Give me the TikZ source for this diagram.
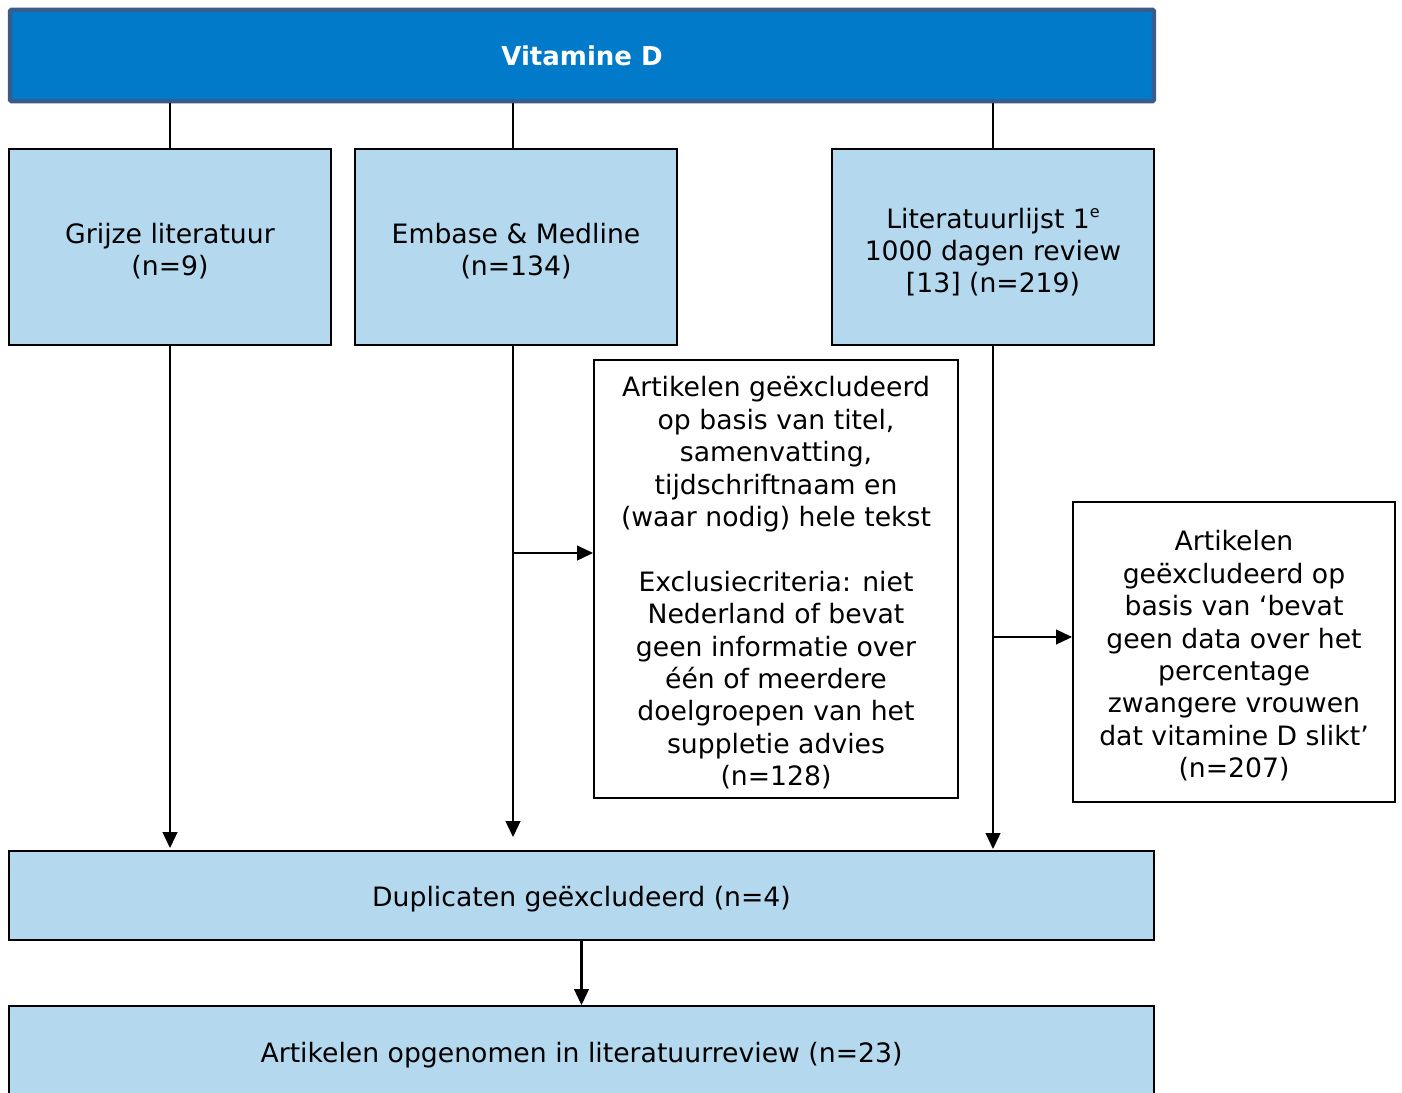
\documentclass[tikz,border=0pt]{standalone}
\usepackage{fontspec}
\setmainfont{DejaVu Sans}
\usetikzlibrary{arrows.meta,calc}
\definecolor{hdrfill}{RGB}{0,122,201}
\definecolor{hdrline}{RGB}{58,92,140}
\definecolor{boxfill}{RGB}{180,216,238}
% a tall first-line strut lowers box text slightly below the box centre
\newcommand{\toplift}{\rule{0pt}{21pt}}
\begin{document}
\begin{tikzpicture}[x=0.75pt,y=-0.75pt,
  every node/.style={font=\fontsize{20}{24.3}\selectfont, inner sep=0pt, align=center},
  header/.style={rectangle, rounded corners=1pt, fill=hdrfill, draw=hdrline, line width=3.2pt,
    text=white, font=\fontsize{19.5}{24.3}\selectfont\bfseries},
  srcbox/.style={rectangle, fill=boxfill, draw=black, line width=1.4pt,
    minimum width=241.5pt, minimum height=147pt},
  exbox/.style={rectangle, fill=white, draw=black, line width=1.4pt},
  widebox/.style={rectangle, fill=boxfill, draw=black, line width=1.4pt,
    minimum width=858.75pt},
  link/.style={line width=1.6pt},
  flow/.style={line width=1.6pt, -{Triangle[length=12pt,width=11pt]}}
]
\useasboundingbox (0,0) rectangle (1402,1092);

% heading
\node[header, minimum width=858pt, minimum height=68.5pt] (hdr) at (582,55.5) {Vitamine D};

% sources
\node[srcbox] (grey) at (170,247) {\toplift Grijze literatuur\\(n=9)};
\node[srcbox] (emb) at (516,247) {\toplift Embase \& Medline\\(n=134)};
\node[srcbox] (lit) at (993,247) {\rule{0pt}{23pt}Literatuurlijst 1\raisebox{8pt}{\fontsize{12}{12}\selectfont e}\\1000 dagen review\\{[13]} (n=219)};

% exclusions
\node[exbox, minimum width=273pt, minimum height=328.5pt] (ex1) at (776,579)
  {\toplift Artikelen geëxcludeerd\\op basis van titel,\\samenvatting,\\tijdschriftnaam en\\(waar nodig) hele tekst\\\mbox{}\\Exclusiecriteria: niet\\Nederland of bevat\\geen informatie over\\één of meerdere\\doelgroepen van het\\suppletie advies\\(n=128)};
\node[exbox, minimum width=241.5pt, minimum height=225pt] (ex2) at (1234,652)
  {\toplift Artikelen\\geëxcludeerd op\\basis van ‘bevat\\geen data over het\\percentage\\zwangere vrouwen\\dat vitamine D slikt’\\(n=207)};

% merged results
\node[widebox, minimum height=66.75pt] (dup) at (581.5,895.5) {\toplift Duplicaten geëxcludeerd (n=4)};
\node[widebox, minimum height=67.5pt] (fin) at (581.5,1051) {\toplift Artikelen opgenomen in literatuurreview (n=23)};

% heading to sources
\coordinate (embtop) at (513,149);
\coordinate (embbot) at (513,345);
\draw[link] (hdr.south -| grey.north) -- (grey.north);
\draw[link] (hdr.south -| embtop) -- (embtop);
\draw[link] (hdr.south -| lit.north) -- (lit.north);

% sources down to duplicates
\draw[flow] (grey.south) -- ($(grey.south |- dup.north)+(0,-2)$);
\draw[flow] (embbot) -- ($(embbot |- dup.north)+(0,-13)$);
\draw[flow] (lit.south) -- ($(lit.south |- dup.north)+(0,-1)$);

% side branches to exclusions
\coordinate (b1) at (513,553);
\coordinate (b2) at (993,637);
\draw[flow] (b1) -- (b1 -| ex1.west);
\draw[flow] (b2) -- (b2 -| ex2.west);

% duplicates to final
\draw[flow] (dup.south) -- (fin.north);
\end{tikzpicture}
\end{document}
